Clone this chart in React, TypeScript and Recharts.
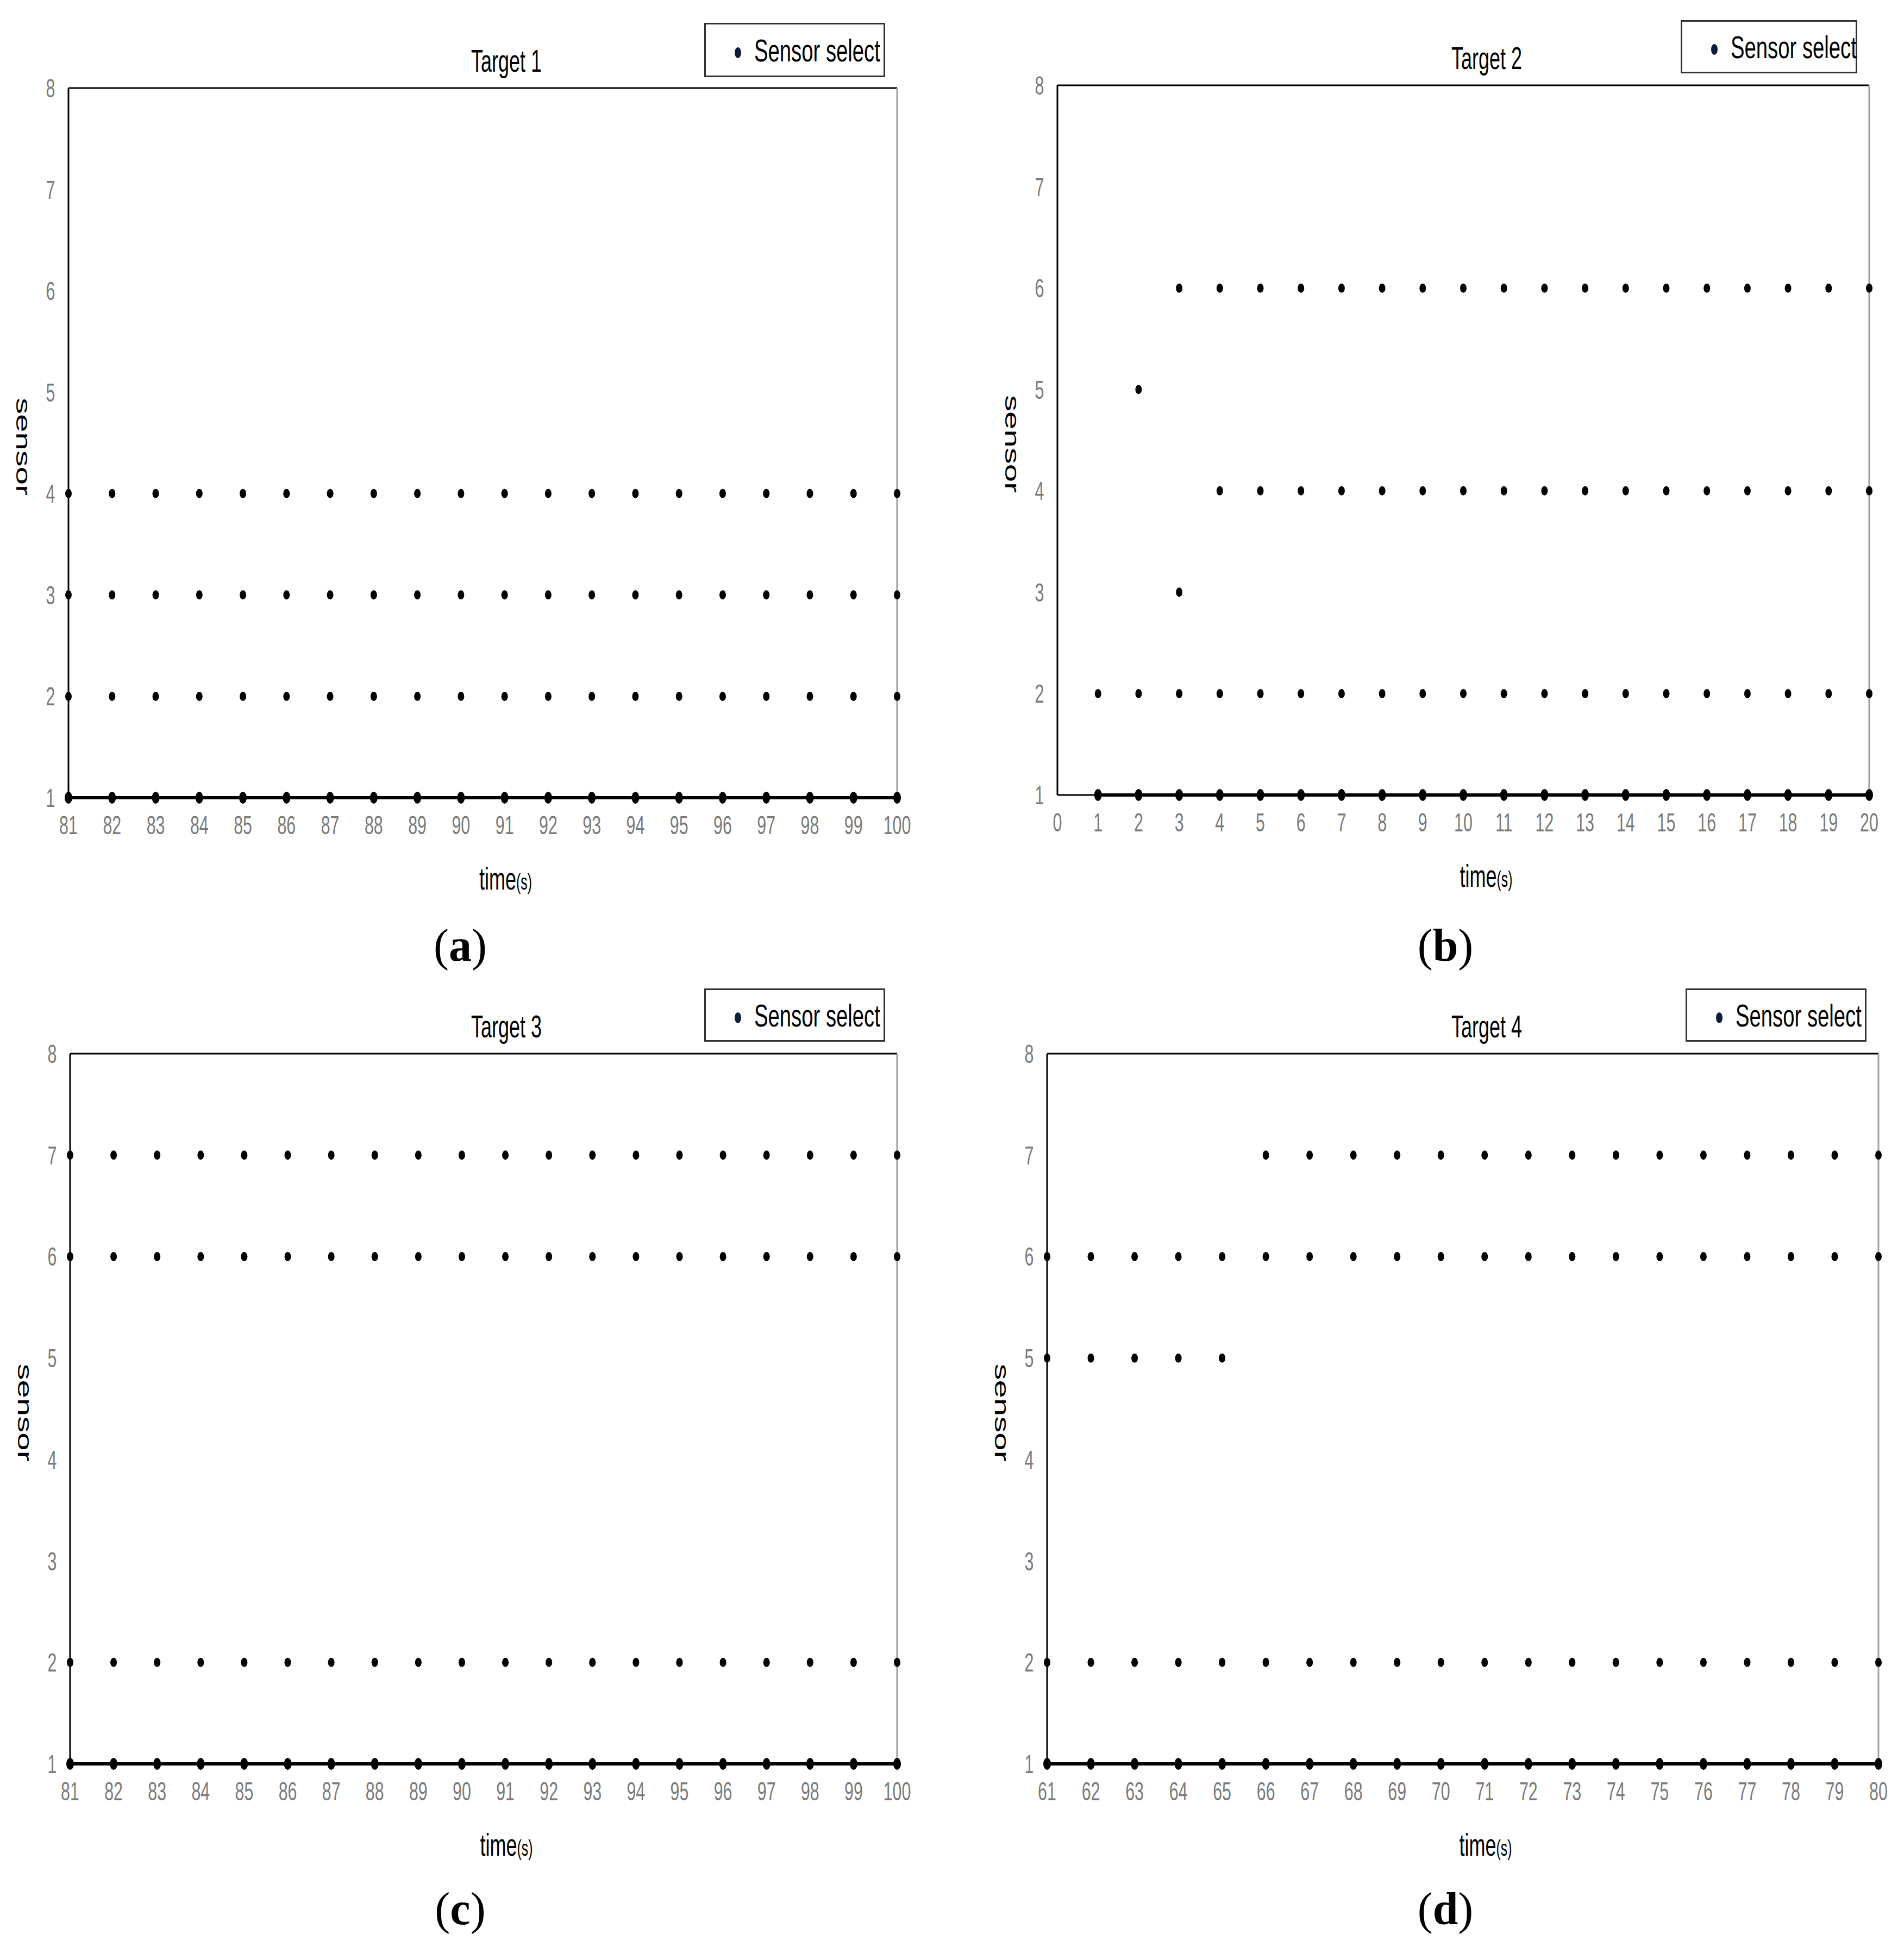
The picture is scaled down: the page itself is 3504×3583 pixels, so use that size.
import { Label, Legend, ReferenceLine, Scatter, ScatterChart, XAxis, YAxis } from 'recharts';

const FONT = '"Liberation Sans", Arial, sans-serif';
const SERIF = '"Liberation Serif", "Times New Roman", serif';
const SX = 0.62; // the source figure is squeezed horizontally

// sensor axis
const sensorTicks = [1, 2, 3, 4, 5, 6, 7, 8];

// Target 1
const timeA = [81, 82, 83, 84, 85, 86, 87, 88, 89, 90, 91, 92, 93, 94, 95, 96, 97, 98, 99, 100];
const selectA = [
  [1, 2, 3, 4], [1, 2, 3, 4], [1, 2, 3, 4], [1, 2, 3, 4], [1, 2, 3, 4],
  [1, 2, 3, 4], [1, 2, 3, 4], [1, 2, 3, 4], [1, 2, 3, 4], [1, 2, 3, 4],
  [1, 2, 3, 4], [1, 2, 3, 4], [1, 2, 3, 4], [1, 2, 3, 4], [1, 2, 3, 4],
  [1, 2, 3, 4], [1, 2, 3, 4], [1, 2, 3, 4], [1, 2, 3, 4], [1, 2, 3, 4],
];

// Target 2
const ticksB = [0, 1, 2, 3, 4, 5, 6, 7, 8, 9, 10, 11, 12, 13, 14, 15, 16, 17, 18, 19, 20];
const timeB = [1, 2, 3, 4, 5, 6, 7, 8, 9, 10, 11, 12, 13, 14, 15, 16, 17, 18, 19, 20];
const selectB = [
  [1, 2], [1, 2, 5], [1, 2, 3, 6], [1, 2, 4, 6], [1, 2, 4, 6],
  [1, 2, 4, 6], [1, 2, 4, 6], [1, 2, 4, 6], [1, 2, 4, 6], [1, 2, 4, 6],
  [1, 2, 4, 6], [1, 2, 4, 6], [1, 2, 4, 6], [1, 2, 4, 6], [1, 2, 4, 6],
  [1, 2, 4, 6], [1, 2, 4, 6], [1, 2, 4, 6], [1, 2, 4, 6], [1, 2, 4, 6],
];

// Target 3
const timeC = [81, 82, 83, 84, 85, 86, 87, 88, 89, 90, 91, 92, 93, 94, 95, 96, 97, 98, 99, 100];
const selectC = [
  [1, 2, 6, 7], [1, 2, 6, 7], [1, 2, 6, 7], [1, 2, 6, 7], [1, 2, 6, 7],
  [1, 2, 6, 7], [1, 2, 6, 7], [1, 2, 6, 7], [1, 2, 6, 7], [1, 2, 6, 7],
  [1, 2, 6, 7], [1, 2, 6, 7], [1, 2, 6, 7], [1, 2, 6, 7], [1, 2, 6, 7],
  [1, 2, 6, 7], [1, 2, 6, 7], [1, 2, 6, 7], [1, 2, 6, 7], [1, 2, 6, 7],
];

// Target 4
const timeD = [61, 62, 63, 64, 65, 66, 67, 68, 69, 70, 71, 72, 73, 74, 75, 76, 77, 78, 79, 80];
const selectD = [
  [1, 2, 5, 6], [1, 2, 5, 6], [1, 2, 5, 6], [1, 2, 5, 6], [1, 2, 5, 6],
  [1, 2, 6, 7], [1, 2, 6, 7], [1, 2, 6, 7], [1, 2, 6, 7], [1, 2, 6, 7],
  [1, 2, 6, 7], [1, 2, 6, 7], [1, 2, 6, 7], [1, 2, 6, 7], [1, 2, 6, 7],
  [1, 2, 6, 7], [1, 2, 6, 7], [1, 2, 6, 7], [1, 2, 6, 7], [1, 2, 6, 7],
];

// layout of the four panels (page pixels)
const panels = [
  {
    title: 'Target 1', letter: 'a', time: timeA, select: selectA, ticks: timeA,
    plot: { x0: 126, x1: 1651, y0: 162, y1: 1468 },
    legend: { x: 1296, y: 42, w: 333, h: 100 },
    titleAt: { x: 932, y: 132 }, letterAt: { x: 847, y: 1768 },
  },
  {
    title: 'Target 2', letter: 'b', time: timeB, select: selectB, ticks: ticksB,
    plot: { x0: 1946, x1: 3440, y0: 157, y1: 1463 },
    legend: { x: 3093, y: 37, w: 325, h: 98 },
    titleAt: { x: 2736, y: 127 }, letterAt: { x: 2660, y: 1768 },
  },
  {
    title: 'Target 3', letter: 'c', time: timeC, select: selectC, ticks: timeC,
    plot: { x0: 129, x1: 1651, y0: 1939, y1: 3246 },
    legend: { x: 1296, y: 1819, w: 333, h: 98 },
    titleAt: { x: 932, y: 1909 }, letterAt: { x: 847, y: 3541 },
  },
  {
    title: 'Target 4', letter: 'd', time: timeD, select: selectD, ticks: timeD,
    plot: { x0: 1927, x1: 3457, y0: 1939, y1: 3246 },
    legend: { x: 3102, y: 1819, w: 333, h: 98 },
    titleAt: { x: 2736, y: 1909 }, letterAt: { x: 2660, y: 3541 },
  },
];

const ML = 120;
const YW = 100;
const MT = 170;
const MR = 80;
const MB = 300;
const XH = 100;

const XTick = (props: any) => (
  <text
    transform={`translate(${props.x},${props.y + 67}) scale(${SX},1)`}
    textAnchor="middle"
    fontSize={49}
    fontFamily={FONT}
    fill="#7a7a7a"
  >
    {props.payload.value}
  </text>
);

const YTick = (props: any) => (
  <text
    transform={`translate(${props.x - 33},${props.y + 17}) scale(${SX},1)`}
    textAnchor="middle"
    fontSize={49}
    fontFamily={FONT}
    fill="#7a7a7a"
  >
    {props.payload.value}
  </text>
);

const Dot = (r: { rx: number; ry: number }) => (props: any) =>
  <ellipse cx={props.cx} cy={props.cy} rx={r.rx} ry={r.ry} fill="#000" />;

const LegendBox = ({ w, h }: { w: number; h: number }) => (
  <svg width={w} height={h} style={{ display: 'block' }}>
    <rect x={1.5} y={1.5} width={w - 3} height={h - 3} fill="#fff" stroke="#333" strokeWidth={3} />
    <ellipse cx={62} cy={h * 0.55} rx={6} ry={10} fill="#0c1c3c" />
    <text
      transform={`translate(92,${h * 0.71}) scale(0.66,1)`}
      fontSize={58}
      fontFamily={FONT}
      fill="#000"
    >
      Sensor select
    </text>
  </svg>
);

const TargetChart = ({ p }: { p: (typeof panels)[number] }) => {
  const { x0, x1, y0, y1 } = p.plot;
  const left = x0 - ML;
  const top = y0 - MT;
  const width = x1 - x0 + ML + MR;
  const height = y1 - y0 + MT + MB;
  const points = p.time.flatMap((t, i) => p.select[i].map((s) => ({ t, s })));
  const base = points.filter((d) => d.s === 1);
  const picked = points.filter((d) => d.s !== 1);
  const xMin = p.ticks[0];
  const xMax = p.ticks[p.ticks.length - 1];

  return (
    <div style={{ position: 'absolute', left, top, width, height }}>
      <ScatterChart
        width={width}
        height={height}
        margin={{ top: MT, right: MR, bottom: MB - XH, left: ML - YW }}
      >
        <XAxis
          type="number"
          dataKey="t"
          domain={[xMin, xMax]}
          ticks={p.ticks}
          interval={0}
          height={XH}
          tickSize={0}
          tickMargin={0}
          tickLine={false}
          axisLine={{ stroke: '#000', strokeWidth: 3 }}
          tick={<XTick />}
        >
          <Label
            content={(lp: any) => {
              const vb = lp.viewBox;
              return (
                <text
                  transform={`translate(${vb.x + vb.width / 2 + 42},${vb.y + 169}) scale(${SX},1)`}
                  textAnchor="middle"
                  fontFamily={FONT}
                  fill="#000"
                >
                  <tspan fontSize={58}>time</tspan>
                  <tspan fontSize={40}>(s)</tspan>
                </text>
              );
            }}
          />
        </XAxis>
        <YAxis
          type="number"
          dataKey="s"
          domain={[1, 8]}
          ticks={sensorTicks}
          interval={0}
          width={YW}
          tickSize={0}
          tickMargin={0}
          tickLine={false}
          axisLine={{ stroke: '#000', strokeWidth: 3 }}
          tick={<YTick />}
        >
          <Label
            content={(lp: any) => {
              const vb = lp.viewBox;
              return (
                <text
                  transform={`translate(${vb.x + vb.width - 83},${vb.y + vb.height / 2 + 7}) scale(${SX},1) rotate(90)`}
                  textAnchor="middle"
                  dominantBaseline="central"
                  fontSize={60}
                  fontFamily={FONT}
                  fill="#000"
                >
                  sensor
                </text>
              );
            }}
          />
        </YAxis>
        <ReferenceLine y={8} stroke="#000" strokeWidth={3} />
        <ReferenceLine x={xMax} stroke="#a0a0a0" strokeWidth={3} />
        <Legend
          layout="horizontal"
          verticalAlign="middle"
          align="center"
          wrapperStyle={{
            left: p.legend.x - left,
            top: p.legend.y - top,
            width: p.legend.w,
            height: p.legend.h,
          }}
          content={() => <LegendBox w={p.legend.w} h={p.legend.h} />}
        />
        <Scatter
          name="Sensor select"
          data={base}
          fill="#000"
          line={{ stroke: '#000', strokeWidth: 6 }}
          lineType="joint"
          shape={Dot({ rx: 7, ry: 11 })}
          isAnimationActive={false}
        />
        <Scatter
          name="Sensor select"
          data={picked}
          fill="#000"
          shape={Dot({ rx: 6, ry: 8.5 })}
          isAnimationActive={false}
          legendType="none"
        />
      </ScatterChart>
    </div>
  );
};

const App = () => (
  <div
    style={{
      position: 'absolute',
      left: 0,
      top: 0,
      width: 3504,
      height: 3583,
      background: '#fff',
      overflow: 'hidden',
    }}
  >
    {panels.map((p) => (
      <TargetChart key={p.letter} p={p} />
    ))}
    <svg
      width={3504}
      height={3583}
      style={{ position: 'absolute', left: 0, top: 0, pointerEvents: 'none' }}
    >
      {panels.map((p) => (
        <g key={p.letter}>
          <text
            transform={`translate(${p.titleAt.x},${p.titleAt.y}) scale(${SX},1)`}
            textAnchor="middle"
            fontSize={58}
            fontFamily={FONT}
            fill="#000"
          >
            {p.title}
          </text>
          <text
            x={p.letterAt.x}
            y={p.letterAt.y}
            textAnchor="middle"
            fontSize={84}
            fontFamily={SERIF}
            fill="#000"
          >
            (<tspan fontWeight="bold">{p.letter}</tspan>)
          </text>
        </g>
      ))}
    </svg>
  </div>
);

export default App;
